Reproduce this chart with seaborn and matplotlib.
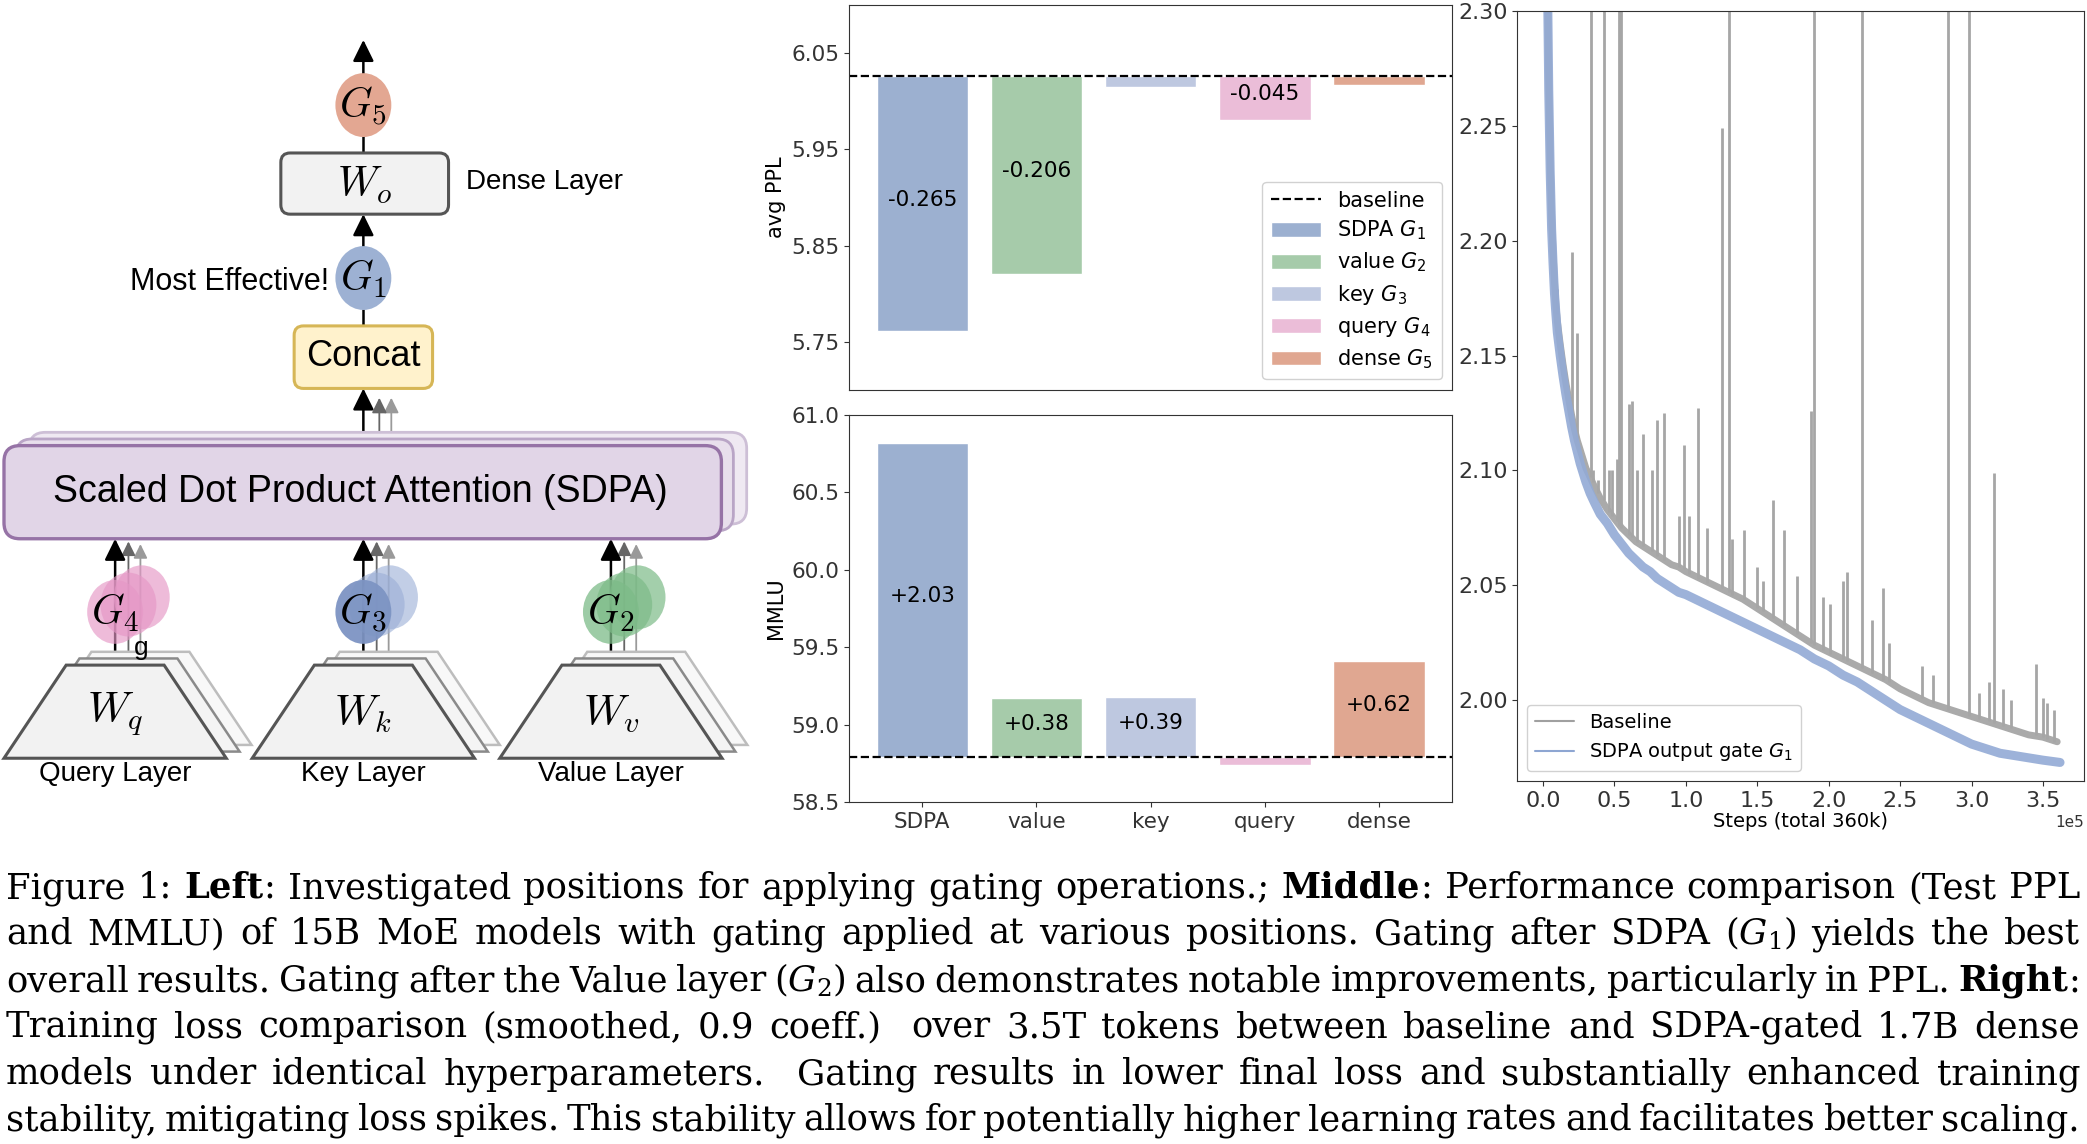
import re
import numpy as np
import pandas as pd
import matplotlib
matplotlib.use("Agg")
import matplotlib.pyplot as plt
import matplotlib.transforms as mtransforms
import seaborn as sns
from matplotlib.patches import Ellipse, FancyBboxPatch, Polygon, FancyArrowPatch, Patch
from matplotlib.lines import Line2D

# ---------------- data ----------------
categories = ["SDPA", "value", "key", "query", "dense"]
gate_labels = ["SDPA $G_1$", "value $G_2$", "key $G_3$", "query $G_4$", "dense $G_5$"]
bar_colors = ["#9CB0D0", "#A6CBAA", "#BEC8E0", "#EBBDD8", "#E0A791"]

ppl_baseline = 6.026
ppl_delta = [-0.265, -0.206, -0.011, -0.045, -0.009]
ppl_text = ["-0.265", "-0.206", "", "-0.045", ""]
ppl_ticks = [5.75, 5.85, 5.95, 6.05]

mmlu_baseline = 58.79
mmlu_delta = [2.03, 0.38, 0.39, -0.05, 0.62]
mmlu_text = ["+2.03", "+0.38", "+0.39", "", "+0.62"]
mmlu_ticks = [58.5, 59.0, 59.5, 60.0, 60.5, 61.0]

# training loss (steps in thousands)
base_k = [0, 2, 3, 4, 5, 6, 7, 8, 9, 10, 12, 14, 16, 18, 20, 22, 24, 26, 28, 30, 33, 36,
          40, 45, 50, 55, 60, 65, 70, 75, 80, 85, 90, 95, 100, 110, 120, 130, 140, 150,
          160, 170, 180, 190, 200, 210, 220, 230, 240, 250, 260, 270, 280, 290, 300,
          310, 320, 330, 340, 350, 360]
base_loss = [2.75, 2.42, 2.32, 2.27, 2.235, 2.21, 2.195, 2.182, 2.172, 2.165, 2.155, 2.146,
             2.138, 2.131, 2.124, 2.118, 2.113, 2.109, 2.105, 2.101, 2.097, 2.093, 2.088,
             2.083, 2.079, 2.075, 2.072, 2.069, 2.067, 2.065, 2.063, 2.061, 2.059, 2.058,
             2.056, 2.053, 2.050, 2.047, 2.044, 2.040, 2.036, 2.032, 2.028, 2.024, 2.021,
             2.018, 2.015, 2.012, 2.009, 2.005, 2.002, 1.999, 1.997, 1.995, 1.993, 1.991,
             1.989, 1.987, 1.985, 1.984, 1.982]
spike_k = [9.5, 20, 24, 33.5, 35, 38.5, 42.5, 46, 48.5, 51.5, 53.5, 54.5, 60, 62.5, 66, 70,
           76, 80, 84.5, 95, 98.5, 102, 108.5, 115, 125, 130.5, 132, 140.5, 150, 154, 161,
           168.5, 178, 187.5, 189.5, 196, 201, 210, 213, 223.5, 230, 238, 242, 265, 273,
           283.5, 298.5, 305, 312, 315.5, 322, 328, 345.5, 350, 353, 358]
spike_base = [2.168, 2.124, 2.113, 2.097, 2.095, 2.090, 2.087, 2.082, 2.080, 2.078, 2.076,
              2.075, 2.072, 2.071, 2.069, 2.067, 2.065, 2.063, 2.061, 2.058, 2.057, 2.055,
              2.053, 2.051, 2.049, 2.047, 2.046, 2.044, 2.040, 2.039, 2.036, 2.033, 2.029,
              2.025, 2.024, 2.022, 2.020, 2.018, 2.017, 2.014, 2.012, 2.009, 2.008, 2.001,
              1.999, 1.996, 1.993, 1.992, 1.991, 1.990, 1.989, 1.988, 1.985, 1.984, 1.983,
              1.982]
spike_peak = [2.179, 2.195, 2.160, 2.36, 2.10, 2.096, 2.36, 2.100, 2.100, 2.105, 2.36, 2.36,
              2.129, 2.130, 2.100, 2.116, 2.100, 2.122, 2.125, 2.080, 2.111, 2.080, 2.127,
              2.075, 2.249, 2.36, 2.070, 2.074, 2.058, 2.052, 2.087, 2.074, 2.054, 2.126,
              2.36, 2.045, 2.042, 2.052, 2.056, 2.36, 2.035, 2.049, 2.025, 2.015, 2.011,
              2.36, 2.36, 2.003, 2.008, 2.099, 2.005, 2.000, 2.016, 2.001, 1.999, 1.996]
gate_k = [0, 2, 3, 4, 5, 6, 7, 8, 9, 10, 12, 14, 16, 18, 20, 22, 24, 26, 28, 30, 33, 36,
          40, 45, 50, 55, 60, 65, 70, 75, 80, 85, 90, 95, 100, 110, 120, 130, 140, 150,
          160, 170, 180, 190, 200, 210, 220, 230, 240, 250, 260, 270, 280, 290, 300,
          310, 320, 330, 340, 350, 362]
gate_loss = [2.75, 2.42, 2.32, 2.265, 2.23, 2.205, 2.19, 2.177, 2.168, 2.16, 2.15, 2.141,
             2.133, 2.126, 2.119, 2.113, 2.108, 2.103, 2.099, 2.095, 2.090, 2.086, 2.081,
             2.077, 2.072, 2.068, 2.064, 2.061, 2.058, 2.056, 2.053, 2.051, 2.049, 2.047,
             2.046, 2.043, 2.040, 2.037, 2.034, 2.031, 2.028, 2.025, 2.022, 2.018, 2.015,
             2.011, 2.008, 2.004, 2.000, 1.996, 1.993, 1.990, 1.987, 1.984, 1.981, 1.979,
             1.977, 1.976, 1.975, 1.974, 1.973]
loss_ticks = [2.00, 2.05, 2.10, 2.15, 2.20, 2.25, 2.30]

cap_lines = [
    "Figure 1: *Left*: Investigated positions for applying gating operations.; *Middle*: Performance comparison (Test PPL",
    "and MMLU) of 15B MoE models with gating applied at various positions. Gating after SDPA $(G_1)$ yields the best",
    "overall results. Gating after the Value layer $(G_2)$ also demonstrates notable improvements, particularly in PPL. *Right*:",
    "Training loss comparison (smoothed, 0.9 coeff.)  over 3.5T tokens between baseline and SDPA-gated 1.7B dense",
    "models under identical hyperparameters.  Gating results in lower final loss and substantially enhanced training",
    "stability, mitigating loss spikes. This stability allows for potentially higher learning rates and facilitates better scaling.",
]

# ---------------- style ----------------
sns.set_style("ticks", rc={"axes.edgecolor": "0.2", "xtick.color": "0.2", "ytick.color": "0.2",
                           "text.color": "black", "axes.labelcolor": "black"})
plt.rcParams["font.family"] = ["DejaVu Sans"]
plt.rcParams["mathtext.fontset"] = "dejavusans"

W, H = 2087, 1144
fig = plt.figure(figsize=(W / 100, H / 100), dpi=100)
DW, DH = 1568.0, 860.0


def rect(x0, y0, x1, y1):
    return [x0 / DW, 1 - y1 / DH, (x1 - x0) / DW, (y1 - y0) / DH]


def bar_panel(ax, deltas, texts, baseline):
    df = pd.DataFrame({"cat": categories, "delta": deltas})
    sns.barplot(data=df, x="cat", y="delta", hue="cat", palette=bar_colors, saturation=1,
                errorbar=None, width=0.8, bottom=baseline, legend=False, ax=ax)
    ax.axhline(baseline, color="black", ls="--", lw=1.6)
    lift = mtransforms.offset_copy(ax.transData, fig=fig, x=0, y=3, units="points")
    for i, (d, t) in enumerate(zip(deltas, texts)):
        if t:
            ax.text(i, baseline + d / 2, t, ha="center", va="center", fontsize=15.5, transform=lift)
    ax.set_xlim(-0.64, 4.64)
    ax.set_xlabel("")


# ---------------- middle: PPL ----------------
ax1 = fig.add_axes(rect(638, 4, 1091, 293))
bar_panel(ax1, ppl_delta, ppl_text, ppl_baseline)
ax1.set_ylim(5.70, 6.10)
ax1.set_yticks(ppl_ticks)
ax1.set_yticklabels([f"{v:.2f}" for v in ppl_ticks])
ax1.tick_params(axis="y", labelsize=15.5)
ax1.tick_params(axis="x", bottom=False, labelbottom=False)
ax1.set_ylabel("avg PPL", fontsize=15)
handles = [Line2D([], [], color="black", ls="--", lw=1.6)] + [Patch(facecolor=c) for c in bar_colors]
ax1.legend(handles, ["baseline"] + gate_labels, loc="lower right", fontsize=15,
           handlelength=2.4, labelspacing=0.4, framealpha=0.9)

# ---------------- middle: MMLU ----------------
ax2 = fig.add_axes(rect(638, 312, 1091, 603))
bar_panel(ax2, mmlu_delta, mmlu_text, mmlu_baseline)
ax2.set_ylim(58.5, 61.0)
ax2.set_yticks(mmlu_ticks)
ax2.set_yticklabels([f"{v:.1f}" for v in mmlu_ticks])
ax2.tick_params(labelsize=15.5)
ax2.set_ylabel("MMLU", fontsize=15)

# ---------------- right: loss ----------------
ax3 = fig.add_axes(rect(1140, 8, 1566, 587))
base_steps = np.array(base_k) * 1000
gate_steps = np.array(gate_k) * 1000
sns.lineplot(x=base_steps, y=base_loss, color="#AAAAAA", lw=5.0, ax=ax3)
ax3.vlines(np.array(spike_k) * 1000, spike_base, spike_peak, color="#A6A6A6", lw=2.0)
sns.lineplot(x=gate_steps, y=gate_loss, color="#93AAD5", lw=6.5, alpha=0.9, ax=ax3)
ax3.set_ylim(1.965, 2.30)
ax3.set_yticks(loss_ticks)
ax3.set_yticklabels([f"{v:.2f}" for v in loss_ticks])
ax3.set_xlim(-18000, 379000)
ax3.ticklabel_format(axis="x", style="sci", scilimits=(0, 0))
ax3.tick_params(labelsize=16)
ax3.xaxis.get_offset_text().set_fontsize(11)
ax3.set_xlabel("Steps (total 360k)", fontsize=14, labelpad=1)
ax3.set_ylabel("")
lh = [Line2D([], [], color="#A0A0A0", lw=1.5), Line2D([], [], color="#8EA6D2", lw=1.5)]
ax3.legend(lh, ["Baseline", "SDPA output gate $G_1$"], loc="lower left", fontsize=14,
           framealpha=0.9)

# ---------------- left: diagram ----------------
axd = fig.add_axes(rect(0, 0, 568, 600))
axd.set_xlim(0, 568)
axd.set_ylim(600, 0)
axd.axis("off")
SANS = ["Liberation Sans", "DejaVu Sans"]


def arrow(x, y0, y1, color="black", lw=1.8, ms=20, z=3):
    axd.add_patch(FancyArrowPatch((x, y0), (x, y1), arrowstyle="-|>,head_length=0.65,head_width=0.32",
                                  mutation_scale=ms, lw=lw, color=color, shrinkA=0, shrinkB=0,
                                  zorder=z, clip_on=False))


def vline(x, y0, y1, color="black", lw=1.8, z=2):
    axd.plot([x, x], [y0, y1], color=color, lw=lw, zorder=z, clip_on=False, solid_capstyle="butt")


def rbox(x0, y0, x1, y1, fc, ec, lw=2.2, r=7, z=4):
    axd.add_patch(FancyBboxPatch((x0, y0), x1 - x0, y1 - y0, boxstyle=f"round,pad=0,rounding_size={r}",
                                 fc=fc, ec=ec, lw=lw, zorder=z, clip_on=False))


def gate(cx, cy, col, label, alpha=1.0, z=5):
    axd.add_patch(Ellipse((cx, cy), 42, 48, fc=col, ec="none", alpha=alpha, zorder=z, clip_on=False))
    if label:
        axd.text(cx, cy + 1, label, ha="center", va="center", fontsize=30, math_fontfamily="cm",
                 zorder=z + 1)


# top path
arrow(273, 57, 30)
vline(273, 100, 115)
gate(273, 79, "#E3A792", "$G_5$")
rbox(211, 115, 337, 161, "#F2F2F2", "#555555")
axd.text(274, 139, "$W_o$", ha="center", va="center", fontsize=30, math_fontfamily="cm", zorder=6)
axd.text(350, 137, "Dense Layer", ha="left", va="center", fontsize=20, family=SANS)
arrow(273, 186, 161)
gate(273, 209, "#9DB1D3", "$G_1$")
axd.text(247, 212, "Most Effective!", ha="right", va="center", fontsize=22, family=SANS)
vline(273, 232, 246)
rbox(221, 245, 325, 292, "#FFF2CC", "#D6B656")
axd.text(273, 268, "Concat", ha="center", va="center", fontsize=26, family=SANS, zorder=6)
arrow(294, 326, 299, color="#9A9A9A", lw=1.3, ms=14)
arrow(285, 331, 299, color="#666666", lw=1.3, ms=14)
arrow(273, 336, 292)

# SDPA stack
rbox(22, 325, 561, 394, "#EFE9F2", "#CDBFD6", lw=2.0, r=12, z=4)
rbox(12, 330, 551, 399, "#E8DFEC", "#B9A5C6", lw=2.0, r=12, z=4)
rbox(3, 335, 542, 405, "#E1D5E7", "#9673A6", lw=2.4, r=12, z=4)
axd.text(271, 370, "Scaled Dot Product Attention (SDPA)", ha="center", va="center", fontsize=27,
         family=SANS, zorder=6)

# bottom columns
columns = [(86.5, "$G_4$", "$W_q$", "Query Layer", "#E597C6", "#E597C6", 0.65, 0.65),
           (273, "$G_3$", "$W_k$", "Key Layer", "#7D94C3", "#9AAED6", 0.95, 0.6),
           (459, "$G_2$", "$W_v$", "Value Layer", "#7DBB88", "#7DBB88", 0.75, 0.7)]
for cx, gl, wl, name, cmain, ccopy, amain, acopy in columns:
    for dx, dy, fc, ec, lw in [(19, -10, "#F8F8F8", "#BDBDBD", 1.8), (10, -5, "#F4F4F4", "#8A8A8A", 1.8),
                               (0, 0, "#F2F2F2", "#555555", 2.2)]:
        pts = [(cx - 83.5 + dx, 570 + dy), (cx + 83.5 + dx, 570 + dy),
               (cx + 36.8 + dx, 500 + dy), (cx - 36.8 + dx, 500 + dy)]
        axd.add_patch(Polygon(pts, closed=True, fc=fc, ec=ec, lw=lw, zorder=3, clip_on=False))
    axd.text(cx, 537, wl, ha="center", va="center", fontsize=31, math_fontfamily="cm", zorder=6)
    axd.text(cx, 582, name, ha="center", va="center", fontsize=20, family=SANS)
    arrow(cx + 19, 490, 409, color="#9A9A9A", lw=1.3, ms=13, z=2)
    arrow(cx + 10, 495, 407, color="#666666", lw=1.3, ms=13, z=2)
    arrow(cx, 500, 405, z=2)
    gate(cx + 20, 449, ccopy, "", alpha=acopy, z=5)
    gate(cx + 10, 454.5, ccopy, "", alpha=acopy, z=5)
    gate(cx, 460, cmain, gl, alpha=amain, z=5)
axd.text(106, 487, "g", ha="center", va="center", fontsize=19, family=SANS, zorder=7)

# ---------------- caption (justified) ----------------
renderer = fig.canvas.get_renderer()
CAP_FS = 25.5
x_left, x_right = 6.0, 2080.0
baselines = [898, 944, 991, 1037, 1084, 1130]
for line, yb in zip(cap_lines, baselines):
    tokens = line.split(" ")
    token_objs = []
    for tok in tokens:
        pieces = [p for p in re.split(r"(\*[^*]+\*)", tok) if p]
        objs = []
        for p in pieces:
            bold = p.startswith("*")
            s = p.strip("*") if bold else p
            t = fig.text(0, 1 - yb / H, s, fontsize=CAP_FS, family=["DejaVu Serif"],
                         weight="bold" if bold else "normal", math_fontfamily="dejavuserif",
                         ha="left", va="baseline")
            objs.append((t, t.get_window_extent(renderer).width))
        token_objs.append(objs)
    widths = [sum(w for _, w in objs) for objs in token_objs]
    gap = (x_right - x_left - sum(widths)) / max(len(tokens) - 1, 1)
    x = x_left
    for objs, wtok in zip(token_objs, widths):
        xx = x
        for t, w in objs:
            t.set_x(xx / W)
            xx += w
        x += wtok + gap

fig.savefig("out.png", dpi=100)
